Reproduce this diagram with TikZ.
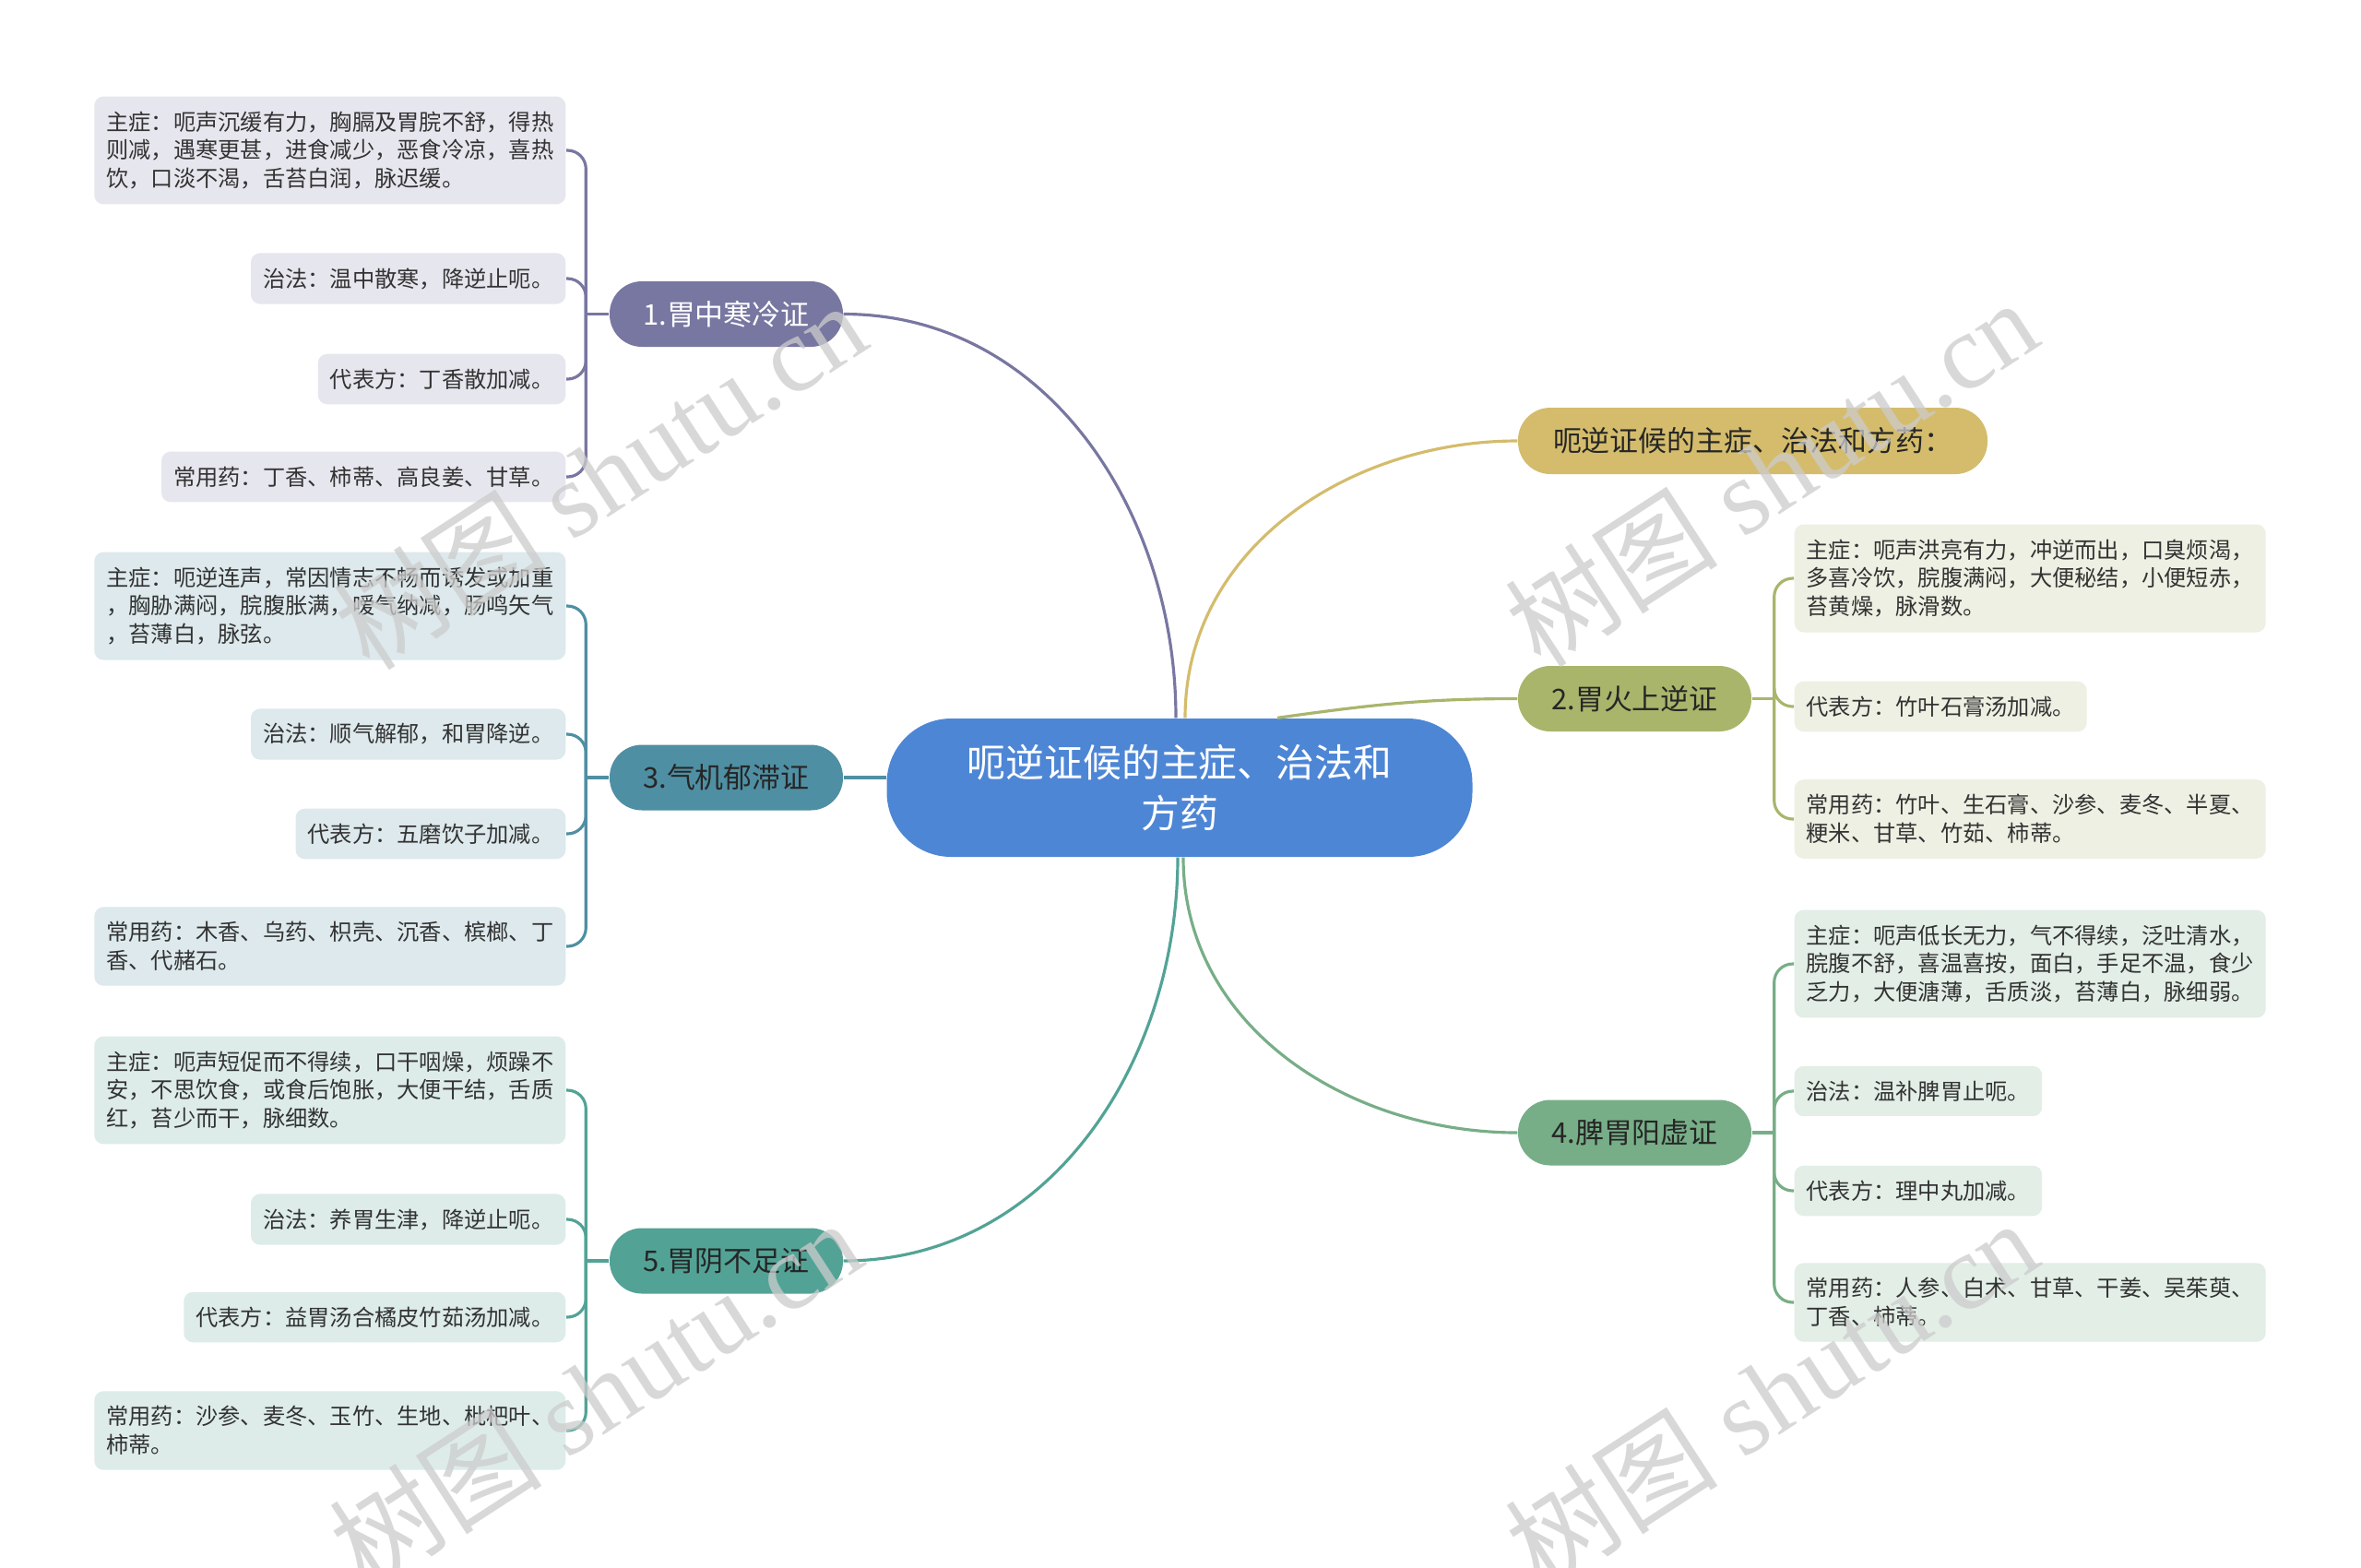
\documentclass[tikz,border=0pt]{standalone}
\usepackage{fontspec}
\newfontfamily\cjk{Noto Sans CJK SC}
\newfontfamily\wmfont{Liberation Serif}
\definecolor{rootblue}{HTML}{4E86D6}
\definecolor{purp}{HTML}{7877A1}
\definecolor{purpleaf}{HTML}{E6E6EE}
\definecolor{qiteal}{HTML}{4F8FA3}
\definecolor{qitealleaf}{HTML}{DDE9EC}
\definecolor{yingreen}{HTML}{52A396}
\definecolor{yingreenleaf}{HTML}{DDECE9}
\definecolor{gold}{HTML}{D4BC6C}
\definecolor{olive}{HTML}{A9B56B}
\definecolor{oliveleaf}{HTML}{EEF0E3}
\definecolor{pigreen}{HTML}{77AE87}
\definecolor{pigreenleaf}{HTML}{E2EEE6}
\tikzstyle{root} = [rectangle, rounded corners=0.7cm, minimum width=6.35cm, minimum height=1.5cm, align=center, fill=rootblue, text=white, font=\cjk\fontsize{11.9}{15.7}\selectfont]
\tikzstyle{branch} = [rectangle, rounded corners=0.35cm, minimum width=2.53cm, minimum height=0.71cm, text=black!85, font=\cjk\fontsize{8.8}{10}\selectfont]
\tikzstyle{leaf} = [rectangle, rounded corners=0.1cm, align=left, inner xsep=0.13cm, inner ysep=0.16cm, text=black!80, font=\cjk\fontsize{6.9}{8.8}\selectfont]
\tikzstyle{link} = [line width=0.9pt]
\tikzstyle{twig} = [line width=0.9pt, rounded corners=0.2cm]
\tikzstyle{wmark} = [rotate=33, text=gray!40, text opacity=0.75, font=\wmfont\fontsize{33}{33}\selectfont]

\begin{document}
\begin{tikzpicture}
    \fill[white] (0,0) rectangle (25.6,-16.99);
    \useasboundingbox (0,0) rectangle (25.6,-16.99);

    \node (root) [root] at (12.79,-8.54) {呃逆证候的主症、治法和\\方药};

    \node (b1) [branch, fill=purp, text=white] at (7.875,-3.405) {1.胃中寒冷证};
    \node (b3) [branch, fill=qiteal] at (7.875,-8.43) {3.气机郁滞证};
    \node (b5) [branch, fill=yingreen] at (7.875,-13.67) {5.胃阴不足证};
    \node (topic) [branch, fill=gold, minimum width=5.09cm, minimum height=0.72cm] at (19.005,-4.78) {呃逆证候的主症、治法和方药：};
    \node (b2) [branch, fill=olive] at (17.725,-7.575) {2.胃火上逆证};
    \node (b4) [branch, fill=pigreen] at (17.725,-12.28) {4.脾胃阳虚证};

    \node (b1a) [leaf, fill=purpleaf, anchor=east] at (6.14,-1.63)
    {主症：呃声沉缓有力，胸膈及胃脘不舒，得热\\则减，遇寒更甚，进食减少，恶食冷凉，喜热\\饮，口淡不渴，舌苔白润，脉迟缓。};
    \node (b1b) [leaf, fill=purpleaf, anchor=east] at (6.14,-3.02) {治法：温中散寒，降逆止呃。};
    \node (b1c) [leaf, fill=purpleaf, anchor=east] at (6.14,-4.11) {代表方：丁香散加减。};
    \node (b1d) [leaf, fill=purpleaf, anchor=east] at (6.14,-5.17) {常用药：丁香、柿蒂、高良姜、甘草。};

    \node (b3a) [leaf, fill=qitealleaf, anchor=east] at (6.14,-6.57)
    {主症：呃逆连声，常因情志不畅而诱发或加重\\，胸胁满闷，脘腹胀满，嗳气纳减，肠鸣矢气\\，苔薄白，脉弦。};
    \node (b3b) [leaf, fill=qitealleaf, anchor=east] at (6.14,-7.96) {治法：顺气解郁，和胃降逆。};
    \node (b3c) [leaf, fill=qitealleaf, anchor=east] at (6.14,-9.04) {代表方：五磨饮子加减。};
    \node (b3d) [leaf, fill=qitealleaf, anchor=east] at (6.14,-10.26)
    {常用药：木香、乌药、枳壳、沉香、槟榔、丁\\香、代赭石。};

    \node (b5a) [leaf, fill=yingreenleaf, anchor=east] at (6.14,-11.82)
    {主症：呃声短促而不得续，口干咽燥，烦躁不\\安，不思饮食，或食后饱胀，大便干结，舌质\\红，苔少而干，脉细数。};
    \node (b5b) [leaf, fill=yingreenleaf, anchor=east] at (6.14,-13.22) {治法：养胃生津，降逆止呃。};
    \node (b5c) [leaf, fill=yingreenleaf, anchor=east] at (6.14,-14.28) {代表方：益胃汤合橘皮竹茹汤加减。};
    \node (b5d) [leaf, fill=yingreenleaf, anchor=east] at (6.14,-15.51)
    {常用药：沙参、麦冬、玉竹、生地、枇杷叶、\\柿蒂。};

    \node (b2a) [leaf, fill=oliveleaf, anchor=west] at (19.45,-6.27)
    {主症：呃声洪亮有力，冲逆而出，口臭烦渴，\\多喜冷饮，脘腹满闷，大便秘结，小便短赤，\\苔黄燥，脉滑数。};
    \node (b2b) [leaf, fill=oliveleaf, anchor=west] at (19.45,-7.66) {代表方：竹叶石膏汤加减。};
    \node (b2c) [leaf, fill=oliveleaf, anchor=west] at (19.45,-8.88)
    {常用药：竹叶、生石膏、沙参、麦冬、半夏、\\粳米、甘草、竹茹、柿蒂。};

    \node (b4a) [leaf, fill=pigreenleaf, anchor=west] at (19.45,-10.45)
    {主症：呃声低长无力，气不得续，泛吐清水，\\脘腹不舒，喜温喜按，面白，手足不温，食少\\乏力，大便溏薄，舌质淡，苔薄白，脉细弱。};
    \node (b4b) [leaf, fill=pigreenleaf, anchor=west] at (19.45,-11.83) {治法：温补脾胃止呃。};
    \node (b4c) [leaf, fill=pigreenleaf, anchor=west] at (19.45,-12.91) {代表方：理中丸加减。};
    \node (b4d) [leaf, fill=pigreenleaf, anchor=west] at (19.45,-14.12)
    {常用药：人参、白术、甘草、干姜、吴茱萸、\\丁香、柿蒂。};

    \coordinate (b1bus) at ([xshift=-0.25cm]b1.west);
    \coordinate (b3bus) at ([xshift=-0.25cm]b3.west);
    \coordinate (b5bus) at ([xshift=-0.25cm]b5.west);
    \coordinate (b2bus) at ([xshift=0.24cm]b2.east);
    \coordinate (b4bus) at ([xshift=0.24cm]b4.east);

    \draw [link, purp] ([xshift=-0.04cm]root.north) to[out=90, in=0] (b1.east);
    \draw [link, gold] ([xshift=0.06cm]root.north) to[out=90, in=180] (topic.west);
    \draw [link, olive] ([xshift=1.06cm]root.north) to[out=8, in=180] (b2.west);
    \draw [link, qiteal] (b3.east) -- (b3.east -| root.west);
    \draw [link, pigreen] ([xshift=0.04cm]root.south) to[out=-90, in=180] (b4.west);
    \draw [link, yingreen] ([xshift=-0.02cm]root.south) to[out=-90, in=0] (b5.east);

    \draw [twig, purp] (b1.west) -- (b1bus);
    \draw [twig, purp] (b1bus) |- (b1a.east);
    \draw [twig, purp] (b1bus) |- (b1b.east);
    \draw [twig, purp] (b1bus) |- (b1c.east);
    \draw [twig, purp] (b1bus) |- (b1d.east);

    \draw [twig, qiteal] (b3.west) -- (b3bus);
    \draw [twig, qiteal] (b3bus) |- (b3a.east);
    \draw [twig, qiteal] (b3bus) |- (b3b.east);
    \draw [twig, qiteal] (b3bus) |- (b3c.east);
    \draw [twig, qiteal] (b3bus) |- (b3d.east);

    \draw [twig, yingreen] (b5.west) -- (b5bus);
    \draw [twig, yingreen] (b5bus) |- (b5a.east);
    \draw [twig, yingreen] (b5bus) |- (b5b.east);
    \draw [twig, yingreen] (b5bus) |- (b5c.east);
    \draw [twig, yingreen] (b5bus) |- (b5d.east);

    \draw [twig, olive] (b2.east) -- (b2bus);
    \draw [twig, olive] (b2bus) |- (b2a.west);
    \draw [twig, olive] (b2bus) |- (b2b.west);
    \draw [twig, olive] (b2bus) |- (b2c.west);

    \draw [twig, pigreen] (b4.east) -- (b4bus);
    \draw [twig, pigreen] (b4bus) |- (b4a.west);
    \draw [twig, pigreen] (b4bus) |- (b4b.west);
    \draw [twig, pigreen] (b4bus) |- (b4c.west);
    \draw [twig, pigreen] (b4bus) |- (b4d.west);

    \node (wm1) [wmark] at (6.5,-5.15) {{\cjk 树图} shutu.cn};
    \node (wm2) [wmark] at (19.2,-5.12) {{\cjk 树图} shutu.cn};
    \node (wm3) [wmark] at (6.45,-15.1) {{\cjk 树图} shutu.cn};
    \node (wm4) [wmark] at (19.2,-15.1) {{\cjk 树图} shutu.cn};
\end{tikzpicture}
\end{document}
